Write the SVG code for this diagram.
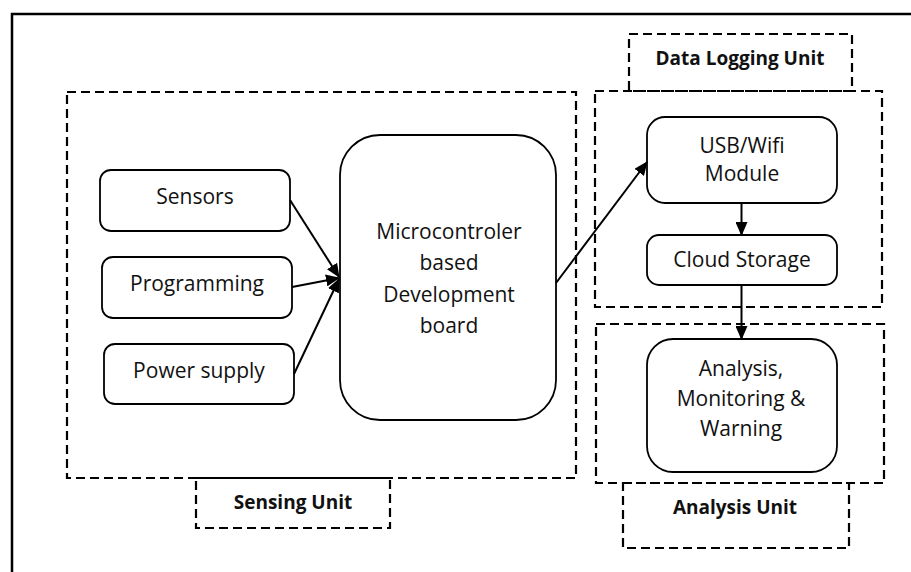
<svg xmlns="http://www.w3.org/2000/svg" width="911" height="572" viewBox="0 0 911 572">
<defs>
<style>
.frame{fill:none;stroke:#000;stroke-width:2.5}
.dash{fill:none;stroke:#000;stroke-width:2.2;stroke-dasharray:9 5}
.node{fill:#fff;stroke:#000;stroke-width:1.8}
.t{font-family:"Open Sans","Noto Sans","Liberation Sans",sans-serif;font-size:21px;fill:#111;text-anchor:middle}
.b{font-family:"Open Sans","Noto Sans","Liberation Sans",sans-serif;font-size:19px;font-weight:bold;fill:#111;text-anchor:middle}
.conn{fill:none;stroke:#000;stroke-width:2}
</style>
<marker id="arr" markerWidth="14" markerHeight="12" refX="13" refY="6" orient="auto" markerUnits="userSpaceOnUse">
<path d="M0,0 L14,6 L0,12 Z" fill="#000"/>
</marker>
</defs>
<rect width="911" height="572" fill="#fff"/>
<rect class="frame" x="12" y="14" width="1000" height="700"/>

<g id="sensing-unit">
<rect class="dash" x="67" y="92" width="509" height="386"/>
</g>
<g id="sensing-unit-label">
<rect class="dash" x="196" y="478" width="194" height="50" fill="none"/>
<text class="b" x="293" y="509">Sensing Unit</text>
</g>
<g id="data-logging-label">
<rect class="dash" x="629" y="34" width="223" height="57"/>
<text class="b" x="740" y="65">Data Logging Unit</text>
</g>
<g id="data-logging-unit">
<rect class="dash" x="595" y="91" width="287" height="216"/>
</g>
<g id="analysis-unit">
<rect class="dash" x="596" y="324" width="288" height="159"/>
</g>
<g id="analysis-unit-label">
<rect class="dash" x="623" y="483" width="226" height="65"/>
<text class="b" x="735" y="514">Analysis Unit</text>
</g>

<g id="sensors">
<rect class="node" x="100" y="170" width="190" height="61" rx="11"/>
<text class="t" x="195" y="204">Sensors</text>
</g>
<g id="programming">
<rect class="node" x="102" y="257" width="190" height="61" rx="11"/>
<text class="t" x="197" y="291">Programming</text>
</g>
<g id="power-supply">
<rect class="node" x="104" y="344" width="190" height="60" rx="11"/>
<text class="t" x="199" y="378">Power supply</text>
</g>
<g id="microcontroller">
<rect class="node" x="340" y="135" width="216" height="285" rx="40"/>
<text class="t" x="449" y="239">Microcontroler</text>
<text class="t" x="449" y="270">based</text>
<text class="t" x="449" y="302">Development</text>
<text class="t" x="449" y="333">board</text>
</g>
<g id="usb-wifi">
<rect class="node" x="647" y="117" width="190" height="86" rx="18"/>
<text class="t" x="742" y="153">USB/Wifi</text>
<text class="t" x="742" y="181">Module</text>
</g>
<g id="cloud-storage">
<rect class="node" x="647" y="235" width="190" height="50" rx="12"/>
<text class="t" x="742" y="267">Cloud Storage</text>
</g>
<g id="analysis">
<rect class="node" x="647" y="339" width="190" height="133" rx="26"/>
<text class="t" x="741" y="376">Analysis,</text>
<text class="t" x="741" y="406">Monitoring &amp;</text>
<text class="t" x="741" y="436">Warning</text>
</g>

<g id="connectors">
<line class="conn" x1="290" y1="200" x2="339" y2="277" marker-end="url(#arr)"/>
<line class="conn" x1="292" y1="287" x2="339" y2="278" marker-end="url(#arr)"/>
<line class="conn" x1="294" y1="374" x2="339" y2="279" marker-end="url(#arr)"/>
<line class="conn" x1="556" y1="283" x2="647" y2="162" marker-end="url(#arr)"/>
<line class="conn" x1="741.5" y1="203" x2="741.5" y2="235" marker-end="url(#arr)"/>
<line class="conn" x1="741.5" y1="285" x2="741.5" y2="339" marker-end="url(#arr)"/>
</g>
</svg>
